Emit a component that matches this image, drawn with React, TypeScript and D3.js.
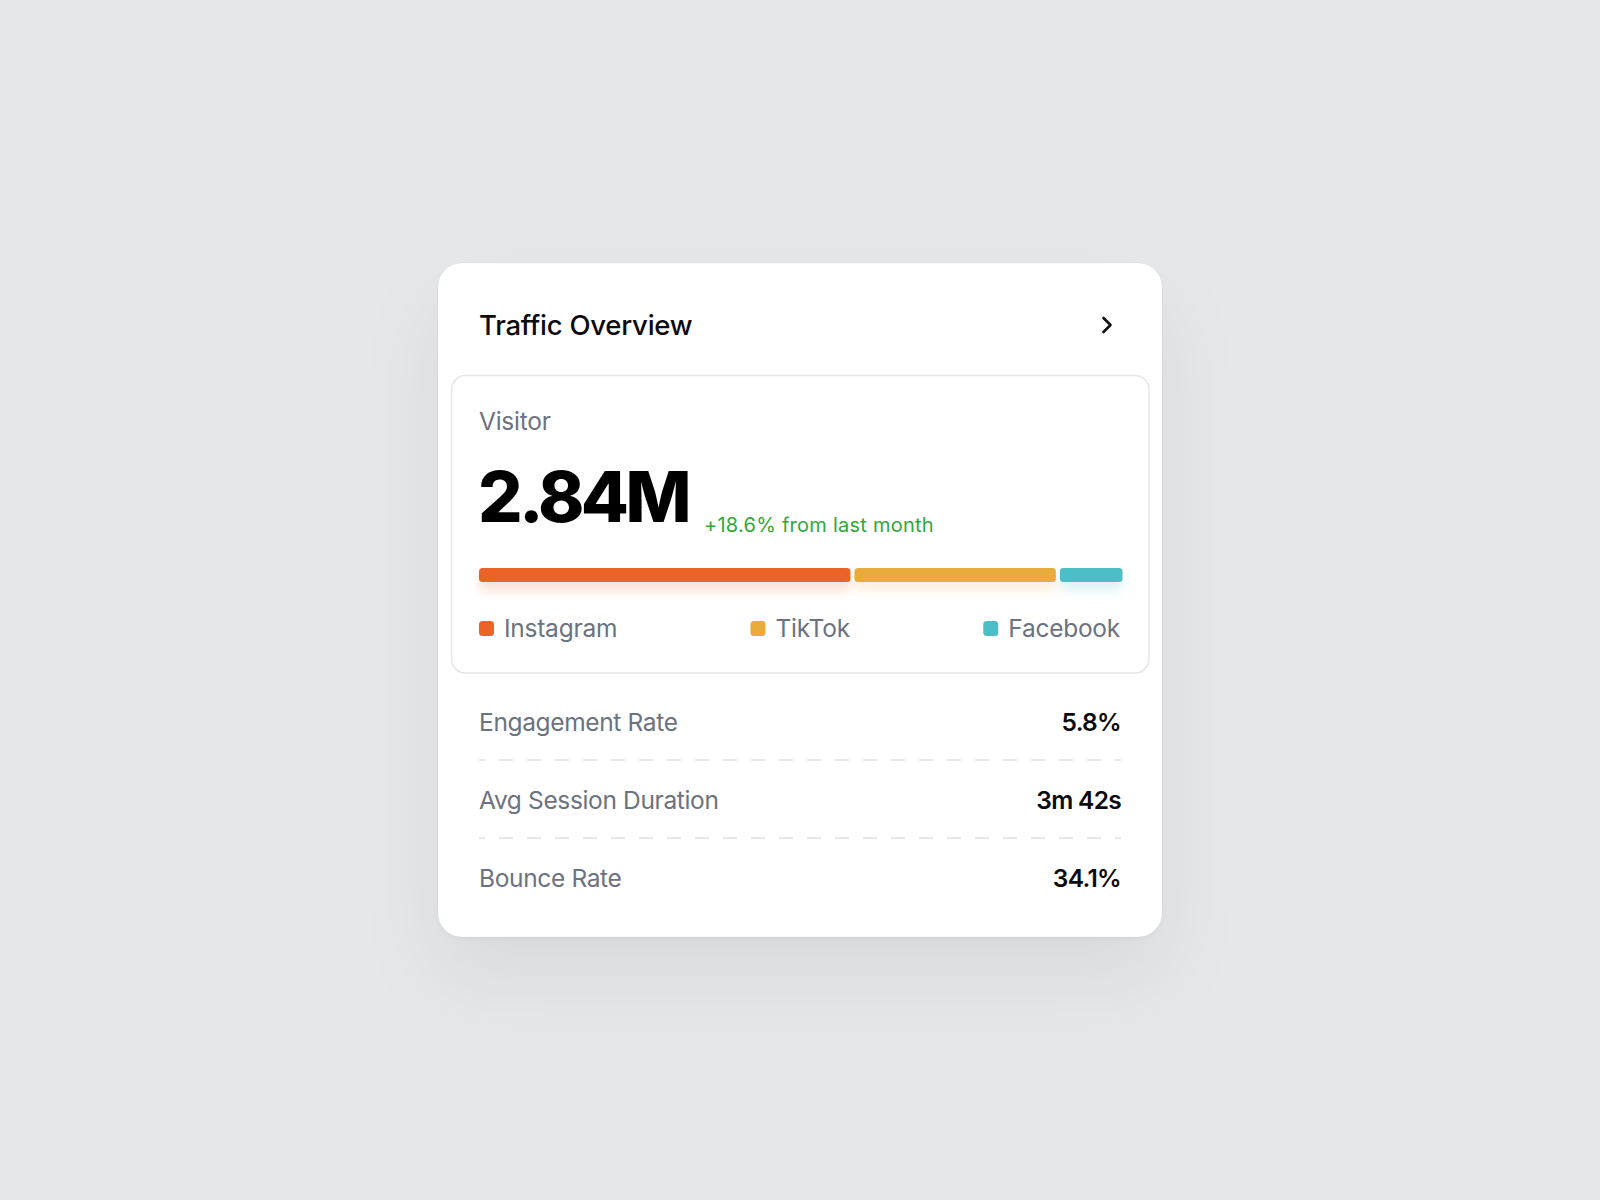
import React, { useEffect, useRef } from "react";
import * as d3 from "d3";

// visitor split by source, in millions (sums to the 2.84M headline)
const sources: string[] = ["Instagram", "TikTok", "Facebook"];
const visitors: number[] = [1.66, 0.90, 0.28];
const source_colors: string[] = ["#eb6426", "#e9ab3a", "#4cbec7"];

const metric_labels: string[] = ["Engagement Rate", "Avg Session Duration", "Bounce Rate"];
const metric_values: string[] = ["5.8%", "3m 42s", "34.1%"];

const title = "Traffic Overview";
const kpi_label = "Visitor";
const kpi_value = "2.84M";
const kpi_change = "+18.6% from last month";

const W = 1600;
const H = 1200;
const FONT = "Inter, 'Noto Sans', sans-serif";

const card = { x: 438, y: 263, w: 724, h: 674, r: 24 };
const inner = { x: 451.5, y: 375.5, w: 697.5, h: 297.5, r: 14 };
const left = 480;
const right = 1121;
const bar = { x0: 479, x1: 1122.5, y: 568, h: 14, gap: 4 };

export default function App() {
    const legend_ref = useRef<SVGGElement>(null);

    // stacked bar, one segment per source
    const total: number = d3.sum(visitors);
    const x = d3.scaleLinear()
        .domain([0, total])
        .range([0, bar.x1 - bar.x0 - bar.gap * (visitors.length - 1)]);
    const starts: number[] = Array.from(d3.cumsum([0, ...visitors.slice(0, -1)]));

    // metric rows
    const row_y = d3.scalePoint<string>()
        .domain(metric_labels)
        .range([731, 887]);

    // legend laid out like flex space-between, needs measured text widths
    useEffect(() => {
        const g = d3.select(legend_ref.current);
        g.selectAll("*").remove();
        const items = g.selectAll<SVGGElement, string>("g.item")
            .data(sources)
            .join("g")
            .attr("class", "item");
        items.append("rect")
            .attr("x", 0).attr("y", 621)
            .attr("width", 15).attr("height", 15)
            .attr("rx", 3.5)
            .attr("fill", (_d, i) => source_colors[i]!);
        items.append("text")
            .attr("x", 25).attr("y", 637)
            .attr("font-size", 24.5)
            .attr("letter-spacing", -0.25)
            .attr("fill", "#6b7280")
            .attr("font-family", FONT)
            .text(d => d);
        const widths: number[] = [];
        items.each(function () {
            const t = d3.select(this).select<SVGTextElement>("text").node()!;
            widths.push(25 + t.getComputedTextLength());
        });
        const free: number = (right - left) - d3.sum(widths);
        const space: number = free / (sources.length - 1);
        let cx = left - 1;
        items.each(function (_d, i) {
            d3.select(this).attr("transform", `translate(${cx},0)`);
            cx += widths[i]! + space;
        });
    }, []);

    return <svg
        width={W}
        height={H}
        style={{ position: "absolute", left: 0, top: 0, display: "block" }}
        font-family={FONT}
    >
        <defs>
            <filter id="card-shadow" x="-30%" y="-30%" width="160%" height="180%">
                <feDropShadow dx="0" dy="40" stdDeviation="40" flood-color="#000" flood-opacity="0.06" />
                <feDropShadow dx="0" dy="2" stdDeviation="3" flood-color="#000" flood-opacity="0.04" />
            </filter>
            <filter id="bar-glow" x="-20%" y="-100%" width="140%" height="400%">
                <feGaussianBlur in="SourceGraphic" stdDeviation="6" result="blur" />
                <feOffset in="blur" dy="8" result="off" />
                <feComponentTransfer in="off" result="faded">
                    <feFuncA type="linear" slope="0.22" />
                </feComponentTransfer>
                <feMerge>
                    <feMergeNode in="faded" />
                    <feMergeNode in="SourceGraphic" />
                </feMerge>
            </filter>
        </defs>

        <rect x={0} y={0} width={W} height={H} fill="#e5e7eb" />

        {/* card */}
        <rect
            x={card.x} y={card.y} width={card.w} height={card.h} rx={card.r}
            fill="#fff" stroke="rgba(0,0,0,0.035)" stroke-width={1}
            filter="url(#card-shadow)"
        />

        <text x={left - 1} y={335} font-size={27.5} font-weight={500} letter-spacing={-0.25} fill="#0b0b0f">{title}</text>
        <path
            d="M1103.5,318 L1110.5,325 L1103.5,332"
            fill="none" stroke="#111" stroke-width={2.6}
            stroke-linecap="round" stroke-linejoin="round"
        />

        {/* visitor box */}
        <rect
            x={inner.x} y={inner.y} width={inner.w} height={inner.h} rx={inner.r}
            fill="#fff" stroke="#e4e6ea" stroke-width={1.5}
        />
        <text x={left - 1} y={430} font-size={24.5} letter-spacing={-0.25} fill="#6b7280">{kpi_label}</text>
        <text x={left - 2} y={522} font-size={70} font-weight={800} letter-spacing={-3.6} fill="#000">{kpi_value}</text>
        <text x={704} y={532} font-size={20} letter-spacing={0.25} fill="#2fa83a">{kpi_change}</text>

        <g filter="url(#bar-glow)">
            {visitors.map((v, i) =>
                <rect
                    key={sources[i]}
                    x={bar.x0 + x(starts[i]!) + i * bar.gap}
                    y={bar.y}
                    width={x(v)}
                    height={bar.h}
                    rx={3.5}
                    fill={source_colors[i]}
                />
            )}
        </g>

        <g ref={legend_ref} />

        {/* metric rows */}
        {metric_labels.map((label, i) => {
            const y: number = row_y(label)!;
            return <g key={label}>
                <text x={left - 1} y={y} font-size={24.5} letter-spacing={-0.35} fill="#6b7280">{label}</text>
                <text x={right} y={y} font-size={24.5} font-weight={600} letter-spacing={-0.7} text-anchor="end" fill="#0b0b0f">{metric_values[i]}</text>
                {i < metric_labels.length - 1 &&
                    <line
                        x1={left - 1} x2={right} y1={y + 29} y2={y + 29}
                        stroke="#e5e7eb" stroke-width={2}
                        stroke-dasharray="14 14" stroke-dashoffset={8}
                    />}
            </g>;
        })}
    </svg>;
}
